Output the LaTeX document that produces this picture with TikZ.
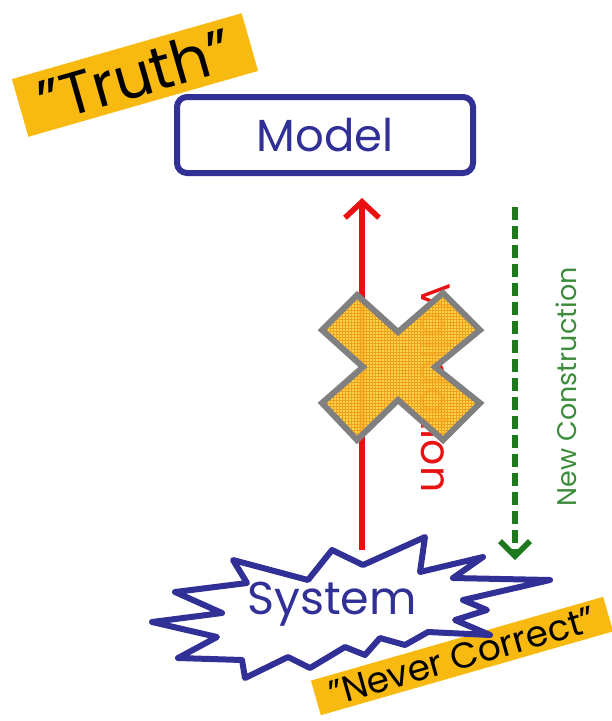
\documentclass[tikz,border=0pt]{standalone}
\usepackage{fontspec}
\setmainfont{Poppins}
\usetikzlibrary{arrows.meta,patterns}

\definecolor{navy}{RGB}{48,48,150}
\definecolor{tagorange}{RGB}{248,186,16}
\definecolor{arrowred}{RGB}{232,16,16}
\definecolor{arrowgreen}{RGB}{30,120,30}
\definecolor{textgreen}{RGB}{60,140,60}
\definecolor{crossyellow}{RGB}{253,208,52}
\definecolor{crossgrid}{RGB}{240,160,30}
\definecolor{crossedge}{RGB}{128,128,128}

\tikzset{
  tag/.style={fill=tagorange, rotate=16, inner sep=0pt, text=black},
  modelbox/.style={draw=navy, line width=6pt, rounded corners=10pt,
    minimum width=296pt, minimum height=76pt, text=navy},
  burst/.style={draw=navy, line width=6pt, line join=round},
  validate/.style={draw=arrowred, line width=5.5pt,
    -{Straight Barb[length=16pt,width=34pt,line width=5.5pt]}},
  construct/.style={draw=arrowgreen, line width=5.5pt, dash pattern=on 13pt off 6pt,
    -{Straight Barb[length=15pt,width=30pt,line width=5.5pt]}},
  crossmark/.style={draw=crossedge, line width=6pt, line join=miter}
}

\begin{document}
\begin{tikzpicture}[x=1pt,y=-1pt]
\useasboundingbox (0,0) rectangle (612,721);

% label above the model
\node[tag, minimum width=239pt, minimum height=60pt] (truth) at (135,75)
  {\fontsize{60}{64}\selectfont "Truth"};

% model box
\node[modelbox] (model) at (325,135) {\fontsize{45}{50}\selectfont Model};

% label under the system
\node[tag, minimum width=304pt, minimum height=36pt] (never) at (462,656)
  {\fontsize{36}{40}\selectfont "Never Correct"};

% system burst outline
\draw[burst]
  (233,560) -- (308,580) -- (332,550) -- (363,565) -- (425,537) -- (420,572)
  -- (483,557) -- (453,578) -- (550,580) -- (463,600) -- (487,610) -- (455,620)
  -- (490,635) -- (428,632) -- (405,645) -- (380,638) -- (365,655) -- (345,647)
  -- (310,668) -- (288,657) -- (245,678) -- (242,660) -- (178,658) -- (217,637)
  -- (152,622) -- (222,613) -- (175,592) -- (247,583) -- cycle;
\node[text=navy] (system) at (332,604) {\fontsize{46}{50}\selectfont System};

% arrows between system and model
\coordinate (redstart) at (362,550);
\coordinate (greenstart) at (515,207);
\coordinate (greenend) at (515,560);
\draw[validate, shorten >=22pt] (redstart) -- (model.south -| redstart);
\draw[construct] (greenstart) -- (greenend);

\node[rotate=-90, text=arrowred] (validation) at (437,388)
  {\fontsize{41}{44}\selectfont Validation};
\node[rotate=90, text=textgreen] (construction) at (566,387)
  {\fontsize{27}{30}\selectfont New Construction};

% the cross over the validation arrow
\def\crosspath{(398,332) -- (443,293) -- (480,330) -- (435,367) -- (480,403)
  -- (443,440) -- (398,400) -- (357,440) -- (322,403) -- (363,367)
  -- (322,330) -- (357,295) -- cycle}
\fill[crossyellow, fill opacity=0.9] \crosspath;
\fill[pattern=grid, pattern color=crossgrid, fill opacity=0.3] \crosspath;
\draw[crossmark] \crosspath;
\end{tikzpicture}
\end{document}
